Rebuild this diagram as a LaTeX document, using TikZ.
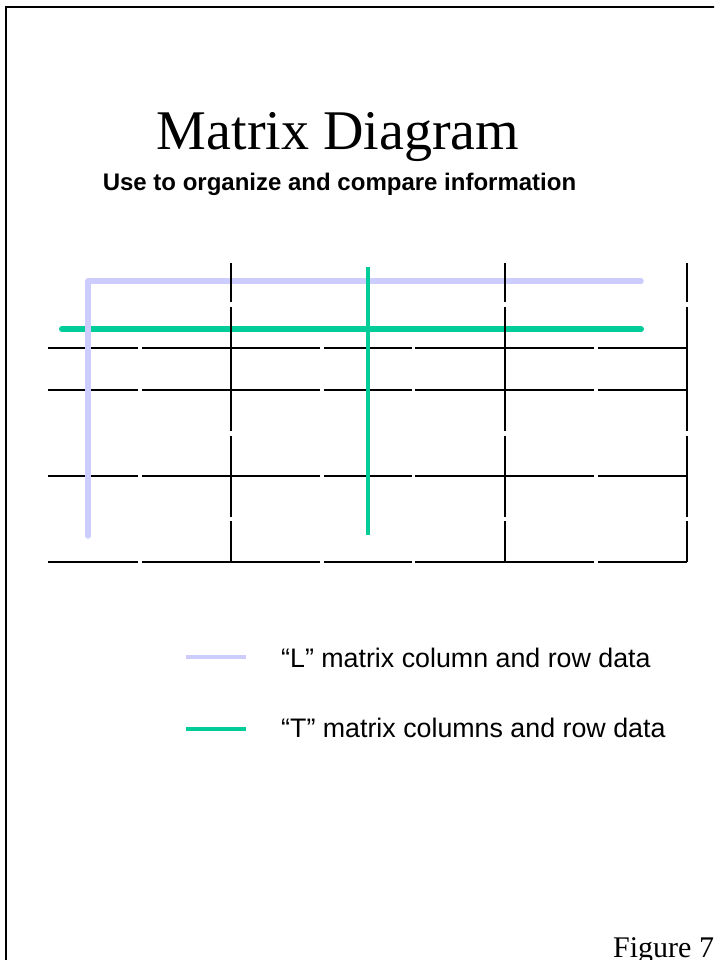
\documentclass[tikz,border=0pt]{standalone}
\usepackage{fontspec}
\setmainfont{Liberation Serif}
\setsansfont{Liberation Sans}
\definecolor{lav}{RGB}{204,204,255}
\definecolor{tgreen}{RGB}{0,204,153}
\begin{document}
\begin{tikzpicture}[x=1pt,y=-1pt,
  gridline/.style={black,line width=2pt},
  frameline/.style={black,line width=2pt,line join=miter},
  lline/.style={lav,line width=5.5pt,line cap=round,line join=round},
  thline/.style={tgreen,line width=6pt,line cap=round},
  tvline/.style={tgreen,line width=4pt},
  legline/.style={line width=4pt},
  legtext/.style={anchor=base west,inner sep=0pt,font=\sffamily\fontsize{26.8}{30}\selectfont},
]
\useasboundingbox (0,0) rectangle (714,960);
\clip (0,0) rectangle (714,960);
% frame
\draw[frameline] (6,962) -- (6,7) -- (716,7);
% titles
\node[anchor=base,inner sep=0pt,font=\fontsize{56}{60}\selectfont] (title) at (338,150) {Matrix Diagram};
\node[anchor=base,inner sep=0pt,font=\sffamily\bfseries\fontsize{24}{28}\selectfont] (subtitle) at (339.5,190.5) {Use to organize and compare information};
% black horizontal grid lines (with small gaps)
\foreach \yy in {348,390,476,562}{
  \foreach \xa/\xb in {48/137.7, 142.3/319.7, 324.3/411.5, 414.5/593.7, 598.3/687}{
    \draw[gridline] (\xa,\yy) -- (\xb,\yy);
  }
}
% T horizontal
\coordinate (th1) at (62,329);
\coordinate (th2) at (641,329);
\draw[thline] (th1) -- (th2);
% L shape
\coordinate (l1) at (88,536);
\coordinate (l2) at (88,281);
\coordinate (l3) at (641,281);
\draw[lline] (l1) -- (l2) -- (l3);
% black vertical grid lines
\foreach \xx in {231,505,687}{
  \foreach \ya/\yb in {263/302.3, 307.3/431, 435.7/516.7, 521.3/562}{
    \draw[gridline] (\xx,\ya) -- (\xx,\yb);
  }
}
% T vertical
\coordinate (tv1) at (367.7,267);
\coordinate (tv2) at (367.7,535);
\draw[tvline] (tv1) -- (tv2);
% legend
\coordinate (a1) at (186,656.7);
\coordinate (a2) at (246,656.7);
\draw[legline,lav] (a1) -- (a2);
\node[legtext] (legL) at (281,667.3) {“L” matrix column and row data};
\coordinate (b1) at (186,728.7);
\coordinate (b2) at (246,728.7);
\draw[legline,tgreen] (b1) -- (b2);
\node[legtext] (legT) at (281,737.3) {“T” matrix columns and row data};
% figure label
\node[anchor=base west,inner sep=0pt,font=\fontsize{30}{34}\selectfont] (fig) at (613,957) {Figure 7};
\end{tikzpicture}
\end{document}
